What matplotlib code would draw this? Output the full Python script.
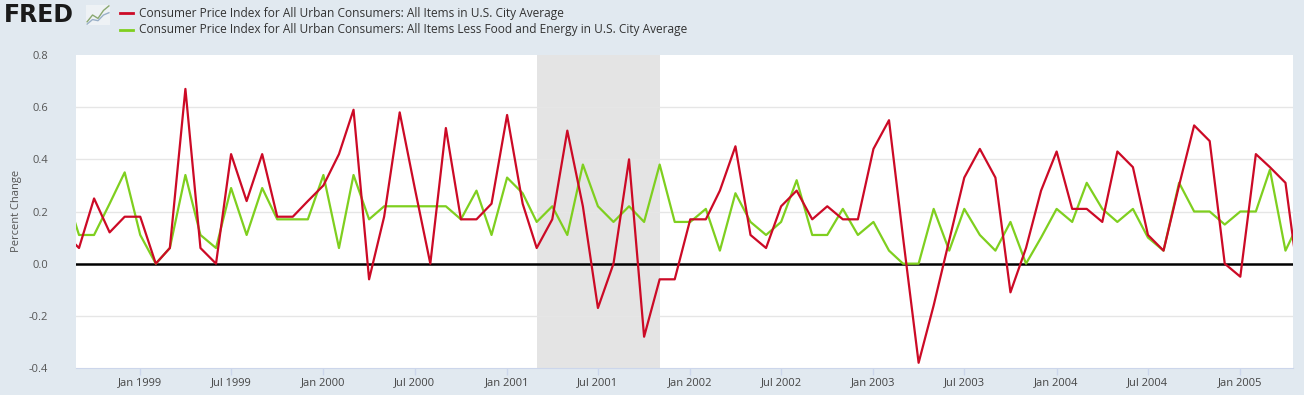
import matplotlib
matplotlib.use("Agg")
import matplotlib.pyplot as plt
import matplotlib.dates as mdates
import pandas as pd

# monthly percent change, Aug 1998 .. May 2005 (first/last points fall just outside the view)
months = pd.date_range("1998-08-01", "2005-05-01", freq="MS")

cpi_all = [
    0.12, 0.06, 0.25, 0.12, 0.18,
    0.18, 0.00, 0.06, 0.67, 0.06, 0.00, 0.42, 0.24, 0.42, 0.18, 0.18, 0.24,
    0.30, 0.42, 0.59, -0.06, 0.18, 0.58, 0.29, 0.00, 0.52, 0.17, 0.17, 0.23,
    0.57, 0.23, 0.06, 0.17, 0.51, 0.22, -0.17, 0.00, 0.40, -0.28, -0.06, -0.06,
    0.17, 0.17, 0.28, 0.45, 0.11, 0.06, 0.22, 0.28, 0.17, 0.22, 0.17, 0.17,
    0.44, 0.55, 0.10, -0.38, -0.16, 0.09, 0.33, 0.44, 0.33, -0.11, 0.06, 0.28,
    0.43, 0.21, 0.21, 0.16, 0.43, 0.37, 0.11, 0.05, 0.30, 0.53, 0.47, 0.00,
    -0.05, 0.42, 0.37, 0.31, -0.12,
]
cpi_core = [
    0.30, 0.11, 0.11, 0.23, 0.35,
    0.11, 0.00, 0.06, 0.34, 0.11, 0.06, 0.29, 0.11, 0.29, 0.17, 0.17, 0.17,
    0.34, 0.06, 0.34, 0.17, 0.22, 0.22, 0.22, 0.22, 0.22, 0.17, 0.28, 0.11,
    0.33, 0.27, 0.16, 0.22, 0.11, 0.38, 0.22, 0.16, 0.22, 0.16, 0.38, 0.16,
    0.16, 0.21, 0.05, 0.27, 0.16, 0.11, 0.16, 0.32, 0.11, 0.11, 0.21, 0.11,
    0.16, 0.05, 0.00, 0.00, 0.21, 0.05, 0.21, 0.11, 0.05, 0.16, 0.00, 0.10,
    0.21, 0.16, 0.31, 0.21, 0.16, 0.21, 0.10, 0.05, 0.31, 0.20, 0.20, 0.15,
    0.20, 0.20, 0.36, 0.05, 0.17,
]

label_all = "Consumer Price Index for All Urban Consumers: All Items in U.S. City Average"
label_core = "Consumer Price Index for All Urban Consumers: All Items Less Food and Energy in U.S. City Average"

recession = ("2001-03-01", "2001-11-01")
yticks = [-0.4, -0.2, 0.0, 0.2, 0.4, 0.6, 0.8]
xticks = pd.date_range("1999-01-01", "2005-01-01", freq="6MS")

red = "#cc0a26"
green = "#7fcf1f"
bg = "#e1e9f0"
axis_blue = "#ccd6eb"

plt.rcParams["font.family"] = ["Open Sans", "DejaVu Sans"]

fig = plt.figure(figsize=(13.04, 3.95), dpi=100, facecolor=bg)
ax = fig.add_axes([76 / 1304, 27 / 395, 1217 / 1304, 313 / 395])
ax.set_facecolor("white")

ax.axvspan(pd.Timestamp(recession[0]), pd.Timestamp(recession[1]), color="#e4e4e4", lw=0, zorder=0)
for v in yticks[1:-1]:
    if v != 0:
        ax.axhline(v, color="#e6e6e6", lw=1, zorder=1)
ax.axhline(0, color="black", lw=1.8, zorder=2)

ax.plot(months, cpi_all, color=red, lw=1.6, zorder=4)
ax.plot(months, cpi_core, color=green, lw=1.6, zorder=3)

ax.set_ylim(-0.4, 0.8)
ax.set_xlim(pd.Timestamp("1998-08-26"), pd.Timestamp("2005-04-16"))

ax.set_yticks(yticks)
ax.set_yticklabels([f"{v:.1f}" for v in yticks])
ax.tick_params(axis="y", length=0, pad=20, labelsize=8, labelcolor="#555555")

ax.set_xticks(xticks)
ax.xaxis.set_major_formatter(mdates.DateFormatter("%b %Y"))
ax.tick_params(axis="x", length=5, width=1, color=axis_blue, pad=1.5, labelsize=8, labelcolor="#444444")

for s in ["top", "right", "left"]:
    ax.spines[s].set_visible(False)
ax.spines["bottom"].set_color(axis_blue)

fig.text(17 / 1304, 1 - 211 / 395, "Percent Change", rotation=90, ha="center", va="center",
         fontsize=8, color="#555555")

# FRED logo
fig.text(4 / 1304, 1 - 15 / 395, "FRED", fontsize=17, fontweight="bold", color="#1a1a1a",
         family="DejaVu Sans", ha="left", va="center")
ix = fig.add_axes([86 / 1304, 1 - 25 / 395, 24 / 1304, 20 / 395])
ix.set_facecolor("#eef2f5")
ix.plot([0, 1, 2, 3, 4], [0.2, 0.5, 0.35, 0.7, 0.9], color="#8aa870", lw=1)
ix.plot([0, 1, 2, 3, 4], [0.1, 0.3, 0.25, 0.5, 0.6], color="#9ab0c8", lw=1)
ix.set_xticks([])
ix.set_yticks([])
for s in ix.spines.values():
    s.set_visible(False)

# legend
for y, col, lab in [(13, red, label_all), (30, green, label_core)]:
    fig.add_artist(plt.Line2D([120 / 1304, 133 / 1304], [1 - y / 395] * 2, color=col, lw=2))
    fig.text(139 / 1304, 1 - y / 395, lab, fontsize=8.55, color="#333333", ha="left", va="center")

fig.savefig("out.png", dpi=100, facecolor=bg)
